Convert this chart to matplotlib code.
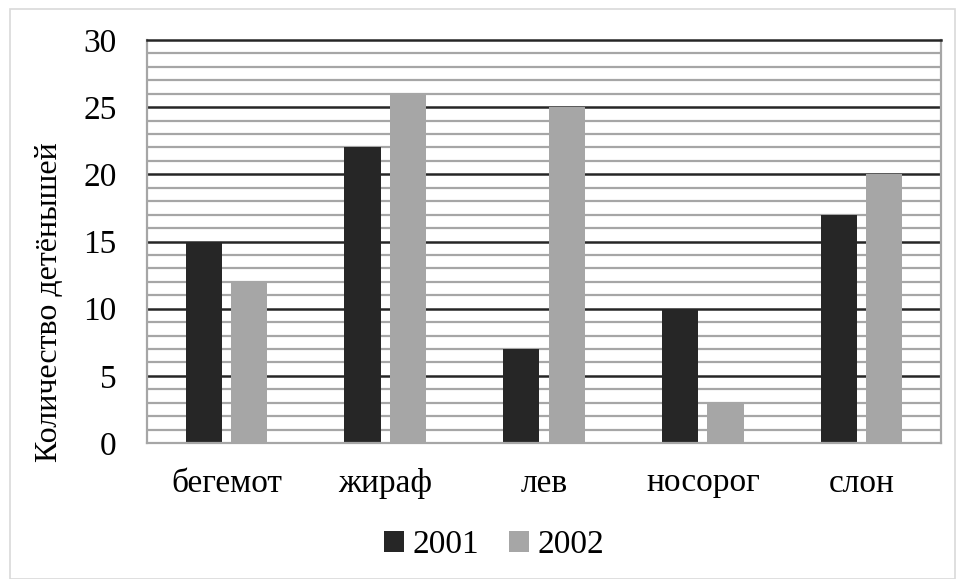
import matplotlib
matplotlib.use("Agg")
import matplotlib.pyplot as plt
import numpy as np
from matplotlib.patches import Rectangle

animals = ["бегемот", "жираф", "лев", "носорог", "слон"]
y2001 = [15, 22, 7, 10, 17]
y2002 = [12, 26, 25, 3, 20]
yticks = [0, 5, 10, 15, 20, 25, 30]

plt.rcParams["font.family"] = ["Liberation Serif", "DejaVu Serif"]

fig = plt.figure(figsize=(9.57, 5.79), dpi=100)
ax = fig.add_axes([147 / 957, 1 - 443 / 579, 794 / 957, 403 / 579])

x = np.arange(len(animals))
w = 0.227
off = 0.143
ax.set_axisbelow(True)
for v in range(1, 30):
    if v % 5:
        ax.axhline(v, color="#a6a6a6", lw=1.6, zorder=0)
    else:
        ax.axhline(v, color="#262626", lw=1.8, zorder=0)
ax.bar(x - off, y2001, w, color="#262626", label="2001", zorder=2)
ax.bar(x + off, y2002, w, color="#a6a6a6", label="2002", zorder=2)

ax.set_xlim(-0.5, len(animals) - 0.5)
ax.set_ylim(0, 30)
ax.set_yticks(yticks)
ax.set_yticklabels([str(t) for t in yticks], fontsize=24)
ax.set_xticks(x)
ax.set_xticklabels(animals, fontsize=24)
ax.tick_params(length=0)
ax.tick_params(axis="y", pad=22)
ax.tick_params(axis="x", pad=18)
for s in ["left", "right", "bottom"]:
    ax.spines[s].set_color("#a6a6a6")
    ax.spines[s].set_linewidth(1.6)
ax.spines["top"].set_color("#262626")
ax.spines["top"].set_linewidth(1.8)

fig.text(50 / 957, 1 - 302 / 579, "Количество детёнышей", rotation=90,
         ha="center", va="center", fontsize=23)

fig.legend(loc="center", bbox_to_anchor=(494 / 957, 1 - 545 / 579), ncol=2,
           frameon=False, fontsize=24, handlelength=0.6, handleheight=0.6,
           handletextpad=0.25, columnspacing=0.9)

fig.patches.append(Rectangle((10 / 957, 0.0), 945 / 957, 1 - 9 / 579,
                             transform=fig.transFigure, fill=False,
                             edgecolor="#d9d9d9", lw=1.2))

fig.savefig("out.png", dpi=100)
